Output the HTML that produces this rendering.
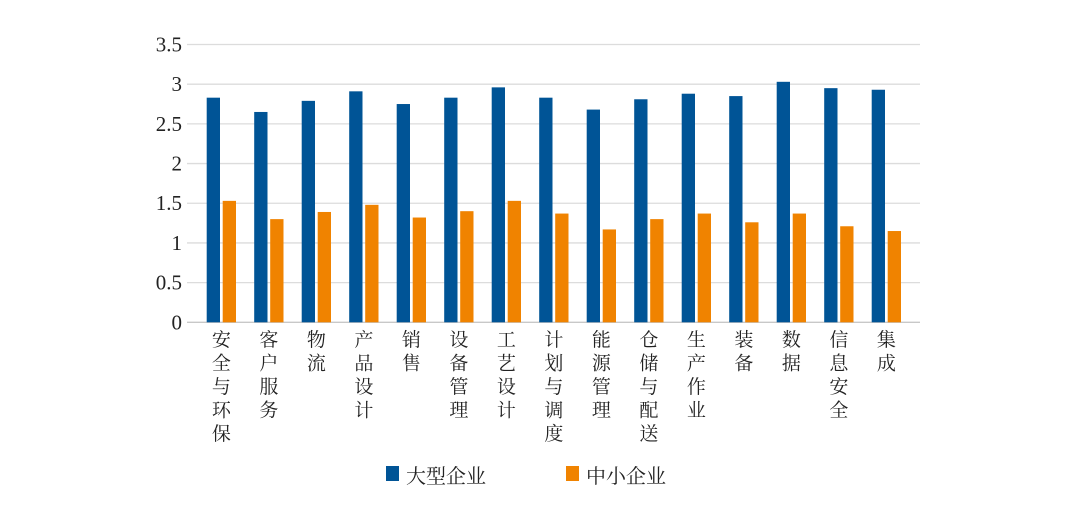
<!DOCTYPE html>
<html><head><meta charset="utf-8">
<style>
body{margin:0;background:#fff;}
svg{display:block;}
svg text{font-family:"Liberation Serif","Noto Serif CJK SC","Noto Sans CJK SC",serif;}
</style></head>
<body>
<svg id="chart" width="1080" height="513" viewBox="0 0 1080 513" xmlns="http://www.w3.org/2000/svg">
<g id="grid"></g>
<g id="yticks"></g>
<g id="bars"></g>
<g id="xlabels"></g>
<g>
  <rect x="386" y="466" width="13" height="15" fill="#005496"/>
  <text x="406" y="483" font-size="20" fill="#222">大型企业</text>
  <rect x="566" y="466" width="13" height="15" fill="#f08300"/>
  <text x="586" y="483" font-size="20" fill="#222">中小企业</text>
</g>
</svg>
<script>
const categories = ["安全与环保","客户服务","物流","产品设计","销售","设备管理","工艺设计","计划与调度","能源管理","仓储与配送","生产作业","装备","数据","信息安全","集成"];
const largeValues = [2.83,2.65,2.79,2.91,2.75,2.83,2.96,2.83,2.68,2.81,2.88,2.85,3.03,2.95,2.93];
const smeValues = [1.53,1.30,1.39,1.48,1.32,1.40,1.53,1.37,1.17,1.30,1.37,1.26,1.37,1.21,1.15];
const yTicks = [0,0.5,1,1.5,2,2.5,3,3.5];
const yTickLabels = ["0","0.5","1","1.5","2","2.5","3","3.5"];

const NS="http://www.w3.org/2000/svg";
const y0=322.3, yTop=44.5, yMax=3.5;
const xL=187, xR=920;
const y = v => y0 - (y0-yTop)*v/yMax;
const pitch=47.5, first=206.7, bw=13.3, gap=2.7;
const gx = i => first + i*pitch;
function mk(tag, attrs, parent){const e=document.createElementNS(NS,tag);for(const k in attrs)e.setAttribute(k,attrs[k]);parent.appendChild(e);return e;}
const grid=document.getElementById('grid'), yt=document.getElementById('yticks'), bars=document.getElementById('bars'), xl=document.getElementById('xlabels');
yTicks.forEach((t,i)=>{
  const l=mk('line',{x1:xL,x2:xR,y1:y(t),y2:y(t),stroke:t===0?'#c8c8c8':'#dcdcdc','stroke-width':1.3},grid);
  
  
  const tx=mk('text',{x:182,y:y(t)+7,'text-anchor':'end','font-size':21,fill:'#222'},yt);
  tx.textContent=yTickLabels[i];
  
  
});
categories.forEach((c,i)=>{
  const x=gx(i);
  const b1=mk('rect',{x:x,y:y(largeValues[i]),width:bw,height:y0-y(largeValues[i]),fill:'#005496'},bars);
  
  
  const b2=mk('rect',{x:x+bw+gap,y:y(smeValues[i]),width:bw,height:y0-y(smeValues[i]),fill:'#f08300'},bars);
  
  
  const cx=x+bw+gap/2;
  const g=mk('text',{'text-anchor':'middle','font-size':19,fill:'#222'},xl);
  
  
  [...c].forEach((ch,j)=>{const s=mk('tspan',{x:cx,y:346+j*23.5},g);s.textContent=ch;});
});
</script>
</body></html>
